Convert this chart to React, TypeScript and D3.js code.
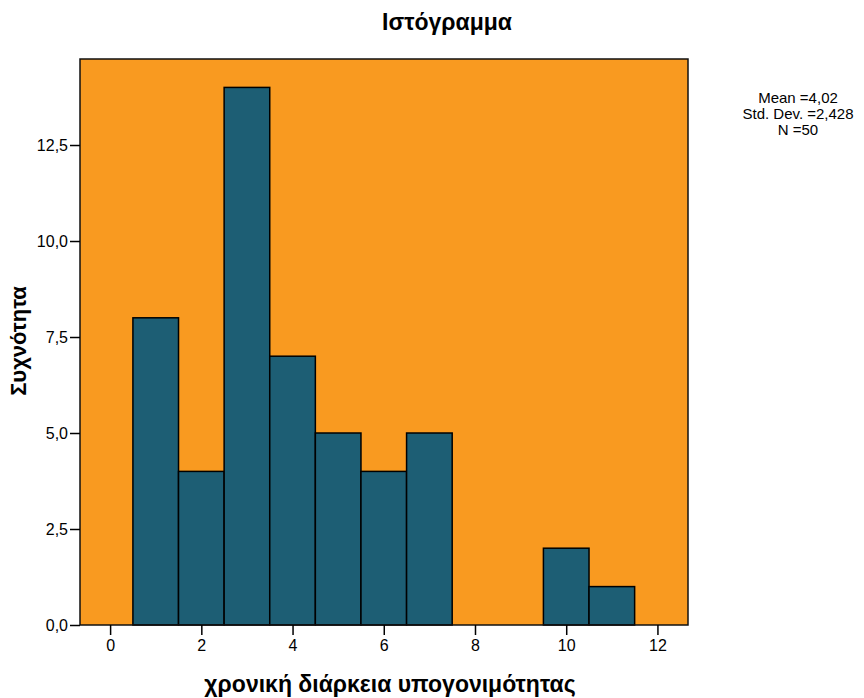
import * as d3 from 'd3'
import { useEffect, useRef } from 'react'

// histogram bins (centre value) and frequencies
const binCenters = [1, 2, 3, 4, 5, 6, 7, 8, 9, 10, 11]
const counts = [8, 4, 14, 7, 5, 4, 5, 0, 0, 2, 1]
const xTicks = [0, 2, 4, 6, 8, 10, 12]
const yTicks = [0, 2.5, 5, 7.5, 10, 12.5]
const statsLines = ['Mean =4,02', 'Std. Dev. =2,428', 'N =50']

const title = 'Ιστόγραμμα'
const xTitle = 'χρονική διάρκεια υπογονιμότητας'
const yTitle = 'Συχνότητα'

const width = 864
const height = 698
const margin = { top: 59, left: 80, right: 176, bottom: 73 }

const App = () => {
  const ref = useRef<SVGSVGElement>(null)

  useEffect(() => {
    const svg = d3.select(ref.current)
    svg.selectAll('*').remove()
    svg.style('font-family', 'Arial, "Liberation Sans", sans-serif')

    const innerW = width - margin.left - margin.right
    const innerH = height - margin.top - margin.bottom

    const xScale = d3
      .scaleLinear()
      .domain([-0.66, 12.67])
      .range([margin.left, margin.left + innerW])
    const yScale = d3
      .scaleLinear()
      .domain([0, 14.74])
      .range([margin.top + innerH, margin.top])

    // plot background
    svg
      .append('rect')
      .attr('x', margin.left)
      .attr('y', margin.top)
      .attr('width', innerW)
      .attr('height', innerH)
      .attr('fill', '#F99A20')

    // bars
    svg
      .append('g')
      .selectAll('rect')
      .data(binCenters.map((c, i) => ({ c, n: counts[i] })).filter((d) => d.n > 0))
      .enter()
      .append('rect')
      .attr('x', (d) => xScale(d.c - 0.5))
      .attr('width', (d) => xScale(d.c + 0.5) - xScale(d.c - 0.5))
      .attr('y', (d) => yScale(d.n))
      .attr('height', (d) => yScale(0) - yScale(d.n))
      .attr('fill', '#1D5E74')
      .attr('stroke', '#000')
      .attr('stroke-width', 1.5)

    // frame
    svg
      .append('rect')
      .attr('x', margin.left)
      .attr('y', margin.top)
      .attr('width', innerW)
      .attr('height', innerH)
      .attr('fill', 'none')
      .attr('stroke', '#111')
      .attr('stroke-width', 1.5)

    // x axis
    const xAxis = d3
      .axisBottom(xScale)
      .tickValues(xTicks)
      .tickSize(10)
      .tickPadding(5)
      .tickFormat((d) => String(d))
    const gx = svg
      .append('g')
      .attr('transform', `translate(0, ${margin.top + innerH})`)
      .call(xAxis)
    gx.select('.domain').remove()
    gx.selectAll('line').attr('stroke', '#000').attr('stroke-width', 1.5)
    gx.selectAll('text').attr('font-size', '16px').attr('fill', '#000')

    // y axis
    const yAxis = d3
      .axisLeft(yScale)
      .tickValues(yTicks)
      .tickSize(10)
      .tickPadding(2)
      .tickFormat((d) => d3.format('.1f')(d as number).replace('.', ','))
    const gy = svg
      .append('g')
      .attr('transform', `translate(${margin.left}, 0)`)
      .call(yAxis)
    gy.select('.domain').remove()
    gy.selectAll('line').attr('stroke', '#000').attr('stroke-width', 1.5)
    gy.selectAll('text').attr('font-size', '16px').attr('fill', '#000')

    // titles
    svg
      .append('text')
      .attr('x', 447)
      .attr('y', 30)
      .attr('text-anchor', 'middle')
      .attr('font-size', '23px')
      .attr('font-weight', 'bold')
      .text(title)

    svg
      .append('text')
      .attr('x', 390)
      .attr('y', 692)
      .attr('text-anchor', 'middle')
      .attr('font-size', '23px')
      .attr('font-weight', 'bold')
      .text(xTitle)

    svg
      .append('text')
      .attr('transform', `translate(26, 341) rotate(-90)`)
      .attr('text-anchor', 'middle')
      .attr('font-size', '22px')
      .attr('font-weight', 'bold')
      .text(yTitle)

    // stats box
    svg
      .append('g')
      .selectAll('text')
      .data(statsLines)
      .enter()
      .append('text')
      .attr('x', 798)
      .attr('y', (_, i) => 103 + i * 16)
      .attr('text-anchor', 'middle')
      .attr('font-size', '15px')
      .text((d) => d)
  }, [])

  return (
    <div style={{ position: 'absolute', left: 0, top: 0 }}>
      <svg ref={ref} width={width} height={height} style={{ display: 'block', background: '#fff' }} />
    </div>
  )
}

export default App
